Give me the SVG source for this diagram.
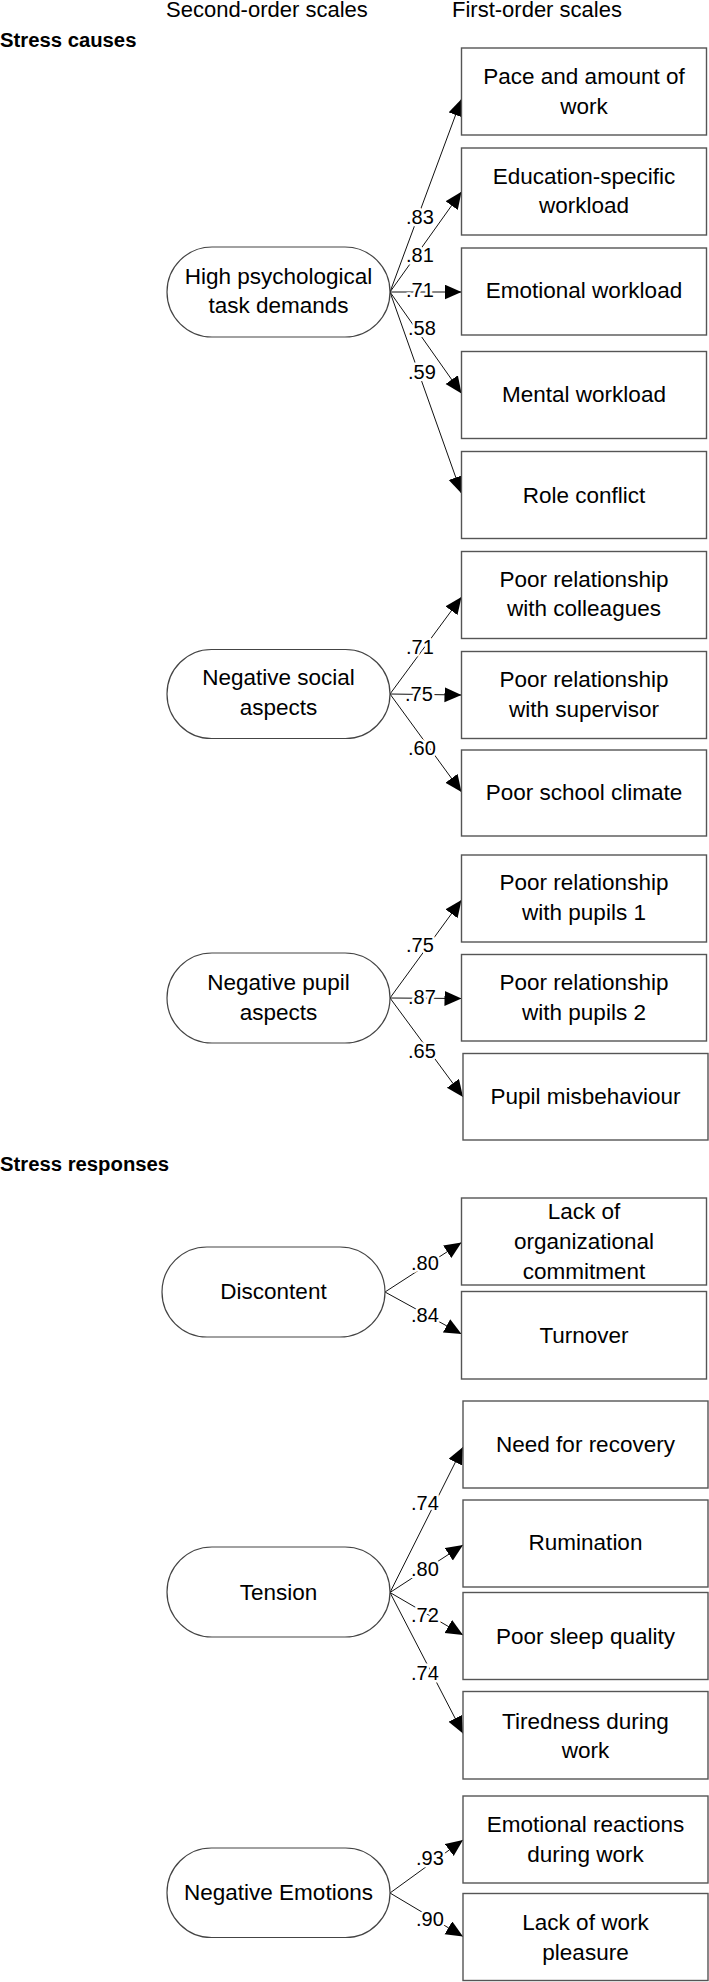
<svg xmlns="http://www.w3.org/2000/svg" width="709" height="1982" viewBox="0 0 709 1982">
<defs>
<marker id="ah" markerUnits="userSpaceOnUse" markerWidth="18" markerHeight="16" refX="17" refY="7.5" orient="auto">
<path d="M0,0 L17,7.5 L0,15 z" fill="#000"/>
</marker>
<style>
.box{fill:#fff;stroke:#555;stroke-width:1.4}
.lat{fill:#fff;stroke:#444;stroke-width:1.2}
.t{font-family:"Liberation Sans",Arial,sans-serif;font-size:22.5px;fill:#000;text-anchor:middle}
.h{font-family:"Liberation Sans",Arial,sans-serif;font-size:22px;fill:#000}
.b{font-family:"Liberation Sans",Arial,sans-serif;font-size:20.3px;font-weight:bold;fill:#000}
.c{stroke:#111;stroke-width:1;fill:none;marker-end:url(#ah)}
.l{font-family:"Liberation Sans",Arial,sans-serif;font-size:20px;fill:#000;stroke:#fff;stroke-width:5;paint-order:stroke;stroke-linejoin:round}
</style>
</defs>
<rect width="709" height="1982" fill="#fff"/>
<text class="h" x="166" y="17">Second-order scales</text>
<text class="h" x="452" y="17">First-order scales</text>
<text class="b" x="0" y="47">Stress causes</text>
<text class="b" x="0" y="1171">Stress responses</text>

<g id="connectors">
<line class="c" x1="390" y1="292" x2="461.5" y2="99"/>
<line class="c" x1="390" y1="292" x2="461.5" y2="191.7"/>
<line class="c" x1="390" y1="292" x2="461.5" y2="292"/>
<line class="c" x1="390" y1="292" x2="461.5" y2="393.5"/>
<line class="c" x1="390" y1="292" x2="461.5" y2="493.5"/>
<line class="c" x1="390" y1="694" x2="461.5" y2="597"/>
<line class="c" x1="390" y1="694" x2="461.5" y2="695"/>
<line class="c" x1="390" y1="694" x2="461.5" y2="792"/>
<line class="c" x1="390" y1="998" x2="461.5" y2="900"/>
<line class="c" x1="390" y1="998" x2="461.5" y2="998.5"/>
<line class="c" x1="390" y1="998" x2="463" y2="1097"/>
<line class="c" x1="385" y1="1292" x2="461.5" y2="1242.5"/>
<line class="c" x1="385" y1="1292" x2="461.5" y2="1334"/>
<line class="c" x1="390" y1="1592.5" x2="463" y2="1447"/>
<line class="c" x1="390" y1="1592.5" x2="463" y2="1545"/>
<line class="c" x1="390" y1="1592.5" x2="463" y2="1635"/>
<line class="c" x1="390" y1="1592.5" x2="463" y2="1733.5"/>
<line class="c" x1="390" y1="1893" x2="463" y2="1840"/>
<line class="c" x1="390" y1="1893" x2="463" y2="1936.5"/>
<text class="l" x="406" y="223.5">.83</text>
<text class="l" x="406" y="261.5">.81</text>
<text class="l" x="406" y="297">.71</text>
<text class="l" x="408" y="335">.58</text>
<text class="l" x="408" y="378.5">.59</text>
<text class="l" x="406" y="653.5">.71</text>
<text class="l" x="405" y="700.5">.75</text>
<text class="l" x="408" y="755">.60</text>
<text class="l" x="406" y="952">.75</text>
<text class="l" x="408" y="1004">.87</text>
<text class="l" x="408" y="1057.5">.65</text>
<text class="l" x="411" y="1270">.80</text>
<text class="l" x="411" y="1321.5">.84</text>
<text class="l" x="411" y="1509.5">.74</text>
<text class="l" x="411" y="1576">.80</text>
<text class="l" x="411" y="1621.5">.72</text>
<text class="l" x="411" y="1679.5">.74</text>
<text class="l" x="416" y="1865">.93</text>
<text class="l" x="416" y="1926">.90</text>
</g>

<g id="n-hptd"><rect class="lat" x="167" y="247" width="223" height="90" rx="45"/><text class="t" x="278.5" y="283.5">High psychological</text><text class="t" x="278.5" y="313">task demands</text></g>
<g id="n-nsa"><rect class="lat" x="167" y="649.5" width="223" height="89" rx="44.5"/><text class="t" x="278.5" y="685">Negative social</text><text class="t" x="278.5" y="715">aspects</text></g>
<g id="n-npa"><rect class="lat" x="167" y="953" width="223" height="90" rx="45"/><text class="t" x="278.5" y="990">Negative pupil</text><text class="t" x="278.5" y="1020">aspects</text></g>
<g id="n-disc"><rect class="lat" x="162" y="1247" width="223" height="90" rx="45"/><text class="t" x="273.5" y="1298.5">Discontent</text></g>
<g id="n-tens"><rect class="lat" x="167" y="1547" width="223" height="90" rx="45"/><text class="t" x="278.5" y="1600">Tension</text></g>
<g id="n-nemo"><rect class="lat" x="167" y="1848" width="223" height="89.5" rx="44.5"/><text class="t" x="278.5" y="1900">Negative Emotions</text></g>

<g id="b1"><rect class="box" x="461.5" y="48" width="245" height="87"/><text class="t" x="584" y="84">Pace and amount of</text><text class="t" x="584" y="114">work</text></g>
<g id="b2"><rect class="box" x="461.5" y="148" width="245" height="87"/><text class="t" x="584" y="183.5">Education-specific</text><text class="t" x="584" y="213">workload</text></g>
<g id="b3"><rect class="box" x="461.5" y="248" width="245" height="87"/><text class="t" x="584" y="298">Emotional workload</text></g>
<g id="b4"><rect class="box" x="461.5" y="351.5" width="245" height="87"/><text class="t" x="584" y="401.5">Mental workload</text></g>
<g id="b5"><rect class="box" x="461.5" y="451.5" width="245" height="87"/><text class="t" x="584" y="502.5">Role conflict</text></g>
<g id="b6"><rect class="box" x="461.5" y="551.5" width="245" height="87"/><text class="t" x="584" y="586.5">Poor relationship</text><text class="t" x="584" y="616">with colleagues</text></g>
<g id="b7"><rect class="box" x="461.5" y="651.5" width="245" height="87"/><text class="t" x="584" y="686.5">Poor relationship</text><text class="t" x="584" y="716.5">with supervisor</text></g>
<g id="b8"><rect class="box" x="461.5" y="750" width="245" height="86"/><text class="t" x="584" y="799.5">Poor school climate</text></g>
<g id="b9"><rect class="box" x="461.5" y="855" width="245" height="87"/><text class="t" x="584" y="890">Poor relationship</text><text class="t" x="584" y="920">with pupils 1</text></g>
<g id="b10"><rect class="box" x="461.5" y="954.5" width="245" height="86.5"/><text class="t" x="584" y="990">Poor relationship</text><text class="t" x="584" y="1020">with pupils 2</text></g>
<g id="b11"><rect class="box" x="463" y="1053.5" width="245" height="86.5"/><text class="t" x="585.5" y="1104">Pupil misbehaviour</text></g>
<g id="b12"><rect class="box" x="461.5" y="1198" width="245" height="87"/><text class="t" x="584" y="1218.5">Lack of</text><text class="t" x="584" y="1248.5">organizational</text><text class="t" x="584" y="1278.5">commitment</text></g>
<g id="b13"><rect class="box" x="461.5" y="1291.5" width="245" height="87.5"/><text class="t" x="584" y="1343">Turnover</text></g>
<g id="b14"><rect class="box" x="463" y="1401" width="245" height="87"/><text class="t" x="585.5" y="1452">Need for recovery</text></g>
<g id="b15"><rect class="box" x="463" y="1500" width="245" height="87"/><text class="t" x="585.5" y="1550">Rumination</text></g>
<g id="b16"><rect class="box" x="463" y="1592.5" width="245" height="87"/><text class="t" x="585.5" y="1643.5">Poor sleep quality</text></g>
<g id="b17"><rect class="box" x="463" y="1691.5" width="245" height="87.5"/><text class="t" x="585.5" y="1728.5">Tiredness during</text><text class="t" x="585.5" y="1757.5">work</text></g>
<g id="b18"><rect class="box" x="463" y="1796" width="245" height="87"/><text class="t" x="585.5" y="1832">Emotional reactions</text><text class="t" x="585.5" y="1862">during work</text></g>
<g id="b19"><rect class="box" x="463" y="1893.5" width="245" height="87"/><text class="t" x="585.5" y="1930">Lack of work</text><text class="t" x="585.5" y="1959.5">pleasure</text></g>
</svg>
